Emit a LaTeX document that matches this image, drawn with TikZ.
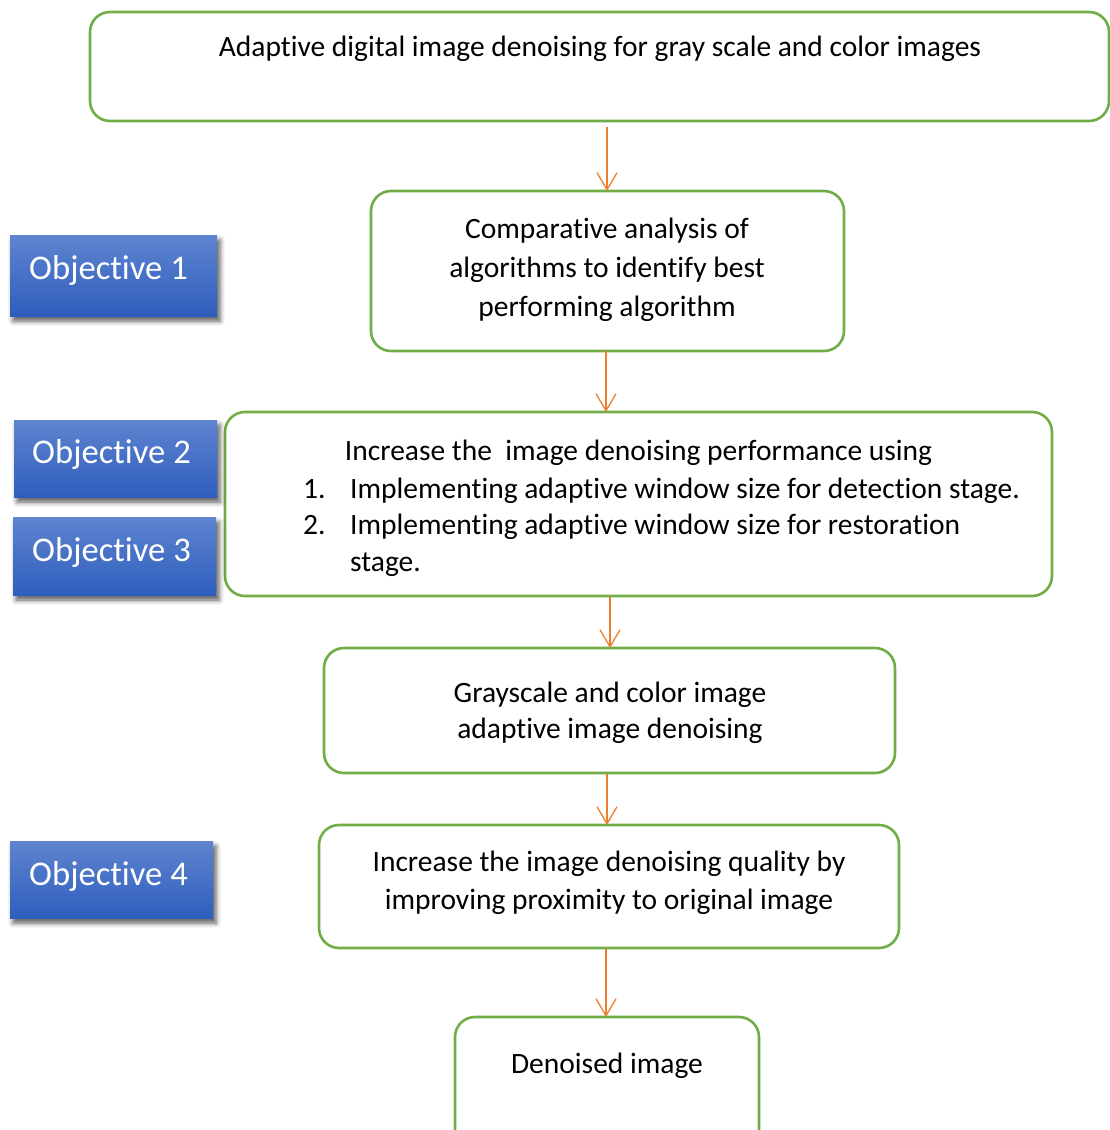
\documentclass[tikz,border=0pt]{standalone}
\usepackage{fontspec}
\setmainfont{Carlito}[Ligatures=NoCommon]
\usetikzlibrary{arrows.meta,shadows.blur,fit,calc}
\definecolor{boxgreen}{HTML}{70AD47}
\definecolor{flowline}{HTML}{ED7D31}
\definecolor{objtop}{HTML}{5F84D0}
\definecolor{objbot}{HTML}{2E5EBD}
\begin{document}
\begin{tikzpicture}[x=1pt,y=-1pt,
  flowbox/.style={draw=boxgreen, line width=2.6pt, rounded corners=20pt,
    fill=white, inner sep=0pt, outer sep=0pt},
  objbox/.style={top color=objtop, bottom color=objbot, draw=none,
    inner sep=0pt, outer sep=0pt,
    blur shadow={shadow xshift=3pt, shadow yshift=-5pt,
      shadow blur radius=5pt, shadow opacity=65}},
  flowtext/.style={font=\fontsize{29.5}{39}\selectfont, text=black,
    align=center, inner sep=0pt},
  linetext/.style={font=\fontsize{29.5}{39}\selectfont, text=black,
    inner sep=0pt, text height=0.75em, text depth=0.25em},
  objtext/.style={font=\fontsize{34.6}{40}\selectfont, text=white,
    inner sep=0pt, text height=0.75em, text depth=0.25em},
  flowarrow/.style={draw=flowline, line width=1.4pt,
    -{Straight Barb[length=17pt, width=20pt, line width=1.3pt]}}]
\useasboundingbox (0,0) rectangle (1110,1130);

% flow boxes
\node[flowbox, fit={(90,12) (1109,121)}] (b1) {};
\node[flowbox, fit={(371,191) (844,351)}] (b2) {};
\node[flowbox, fit={(225,412) (1052,596)}] (b3) {};
\node[flowbox, fit={(324,648) (895,773)}] (b4) {};
\node[flowbox, fit={(319,825) (899,948)}] (b5) {};
\node[flowbox, fit={(455,1017) (759,1150)}] (b6) {};

% texts of the flow boxes
\node[flowtext] (t1) at (600,49) {Adaptive digital image denoising for gray scale and color images};
\node[flowtext] (t2) at (607,270) {Comparative analysis of\\algorithms to identify best\\performing algorithm};
\node[linetext, anchor=center] (t3) at (638.5,458) {Increase the\ \ image denoising performance using};
\node[linetext, anchor=west] (n1) at (303,496) {1.};
\node[linetext, anchor=west] (i1) at (350,496) {Implementing adaptive window size for detection stage.};
\node[linetext, anchor=west] (n2) at (303,532) {2.};
\node[linetext, anchor=west] (i2) at (350,532) {Implementing adaptive window size for restoration};
\node[linetext, anchor=west] (i2b) at (350,569) {stage.};
\node[flowtext, font=\fontsize{29.5}{36}\selectfont] (t4) at (610,713) {Grayscale and color image\\adaptive image denoising};
\node[flowtext, font=\fontsize{29.5}{38}\selectfont] (t5) at (609,883) {Increase the image denoising quality by\\improving proximity to original image};
\node[linetext] (t6) at (607,1071) {Denoised image};

% objective labels
\node[objbox, fit={(10,235) (217,316)}] (o1) {};
\node[objbox, fit={(14,420) (217,497)}] (o2) {};
\node[objbox, fit={(13,517) (216,595)}] (o3) {};
\node[objbox, fit={(10,841) (213,918)}] (o4) {};
\node[objtext] (ot1) at ($(o1.center)+(-5,1)$) {Objective 1};
\node[objtext] (ot2) at ($(o2.center)+(-4,2)$) {Objective 2};
\node[objtext] (ot3) at ($(o3.center)+(-3,3)$) {Objective 3};
\node[objtext] (ot4) at ($(o4.center)+(-3,3)$) {Objective 4};

% connectors
\draw[flowarrow] ($(b1.south -| b2.north)+(-0.5,6)$) -- ($(b2.north)+(-0.5,0)$);
\draw[flowarrow] ($(b2.south)+(-1.5,0)$) -- ($(b2.south |- b3.north)+(-1.5,0)$);
\draw[flowarrow] ($(b4.north |- b3.south)+(0.5,1)$) -- ($(b4.north)+(0.5,0)$);
\draw[flowarrow] ($(b5.north |- b4.south)+(-2,1)$) -- ($(b5.north)+(-2,0)$);
\draw[flowarrow] ($(b6.north |- b5.south)+(-1,1)$) -- ($(b6.north)+(-1,0)$);
\end{tikzpicture}
\end{document}
